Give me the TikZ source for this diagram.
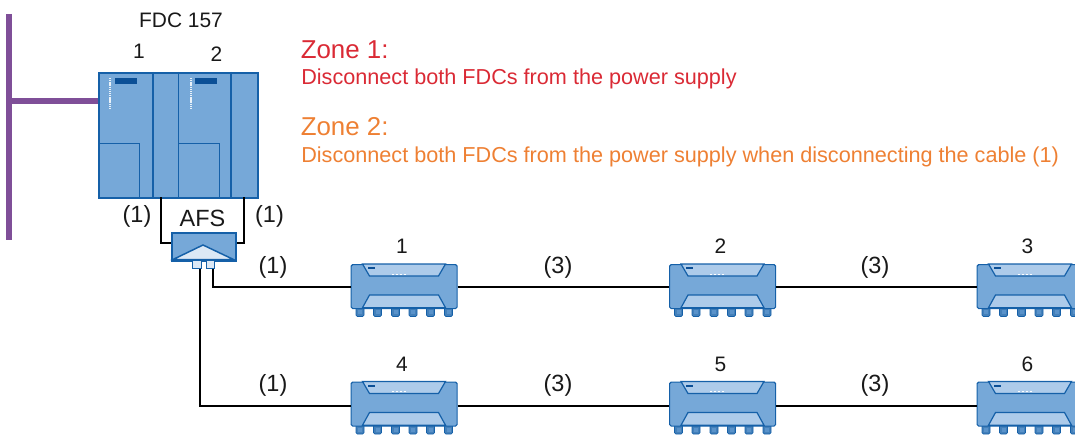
\documentclass[tikz,border=0pt]{standalone}
\usepackage{fontspec}
\setmainfont{Liberation Sans}
\definecolor{boxfill}{HTML}{76A8D8}
\definecolor{boxline}{HTML}{1560A8}
\definecolor{boxdark}{HTML}{0B4F96}
\definecolor{panel}{HTML}{ADCBEA}
\definecolor{tri}{HTML}{DCE8F5}
\definecolor{bus}{HTML}{7F4F98}
\definecolor{zoneone}{HTML}{DA2A35}
\definecolor{zonetwo}{HTML}{EE8033}
\def\px{0.75pt}
\tikzset{
  txt/.style={inner sep=0pt,font=\fontsize{15.7}{18}\selectfont,text=black!90},
  lab/.style={inner sep=0pt,font=\fontsize{17.6}{20}\selectfont,text=black!90},
  zonehead/.style={inner sep=0pt,anchor=base west,font=\fontsize{19.4}{22}\selectfont},
  zonetext/.style={inner sep=0pt,anchor=base west,font=\fontsize{16.23}{18}\selectfont},
  wire/.style={draw=black,line width=1.5pt},
  busline/.style={draw=bus,line width=4.2pt},
  unit/.style={draw=boxline,fill=boxfill,line width=1.6pt},
  thin unit/.style={draw=boxline,line width=1pt},
  port/.style={draw=boxline,fill=tri,line width=1.1pt,minimum width=8.5*\px,minimum height=8*\px,inner sep=0pt,anchor=north west},
  device/.style={draw=boxline,fill=boxfill,line width=0.9pt,rounded corners=1.2pt,
    minimum width=106*\px,minimum height=44*\px,inner sep=0pt,anchor=north west},
  devpanel/.style={draw=boxline,fill=panel,line width=0.9pt},
  gland/.style={fill=boxline!80!white,draw=boxline,line width=0.6pt,rounded corners=1pt},
}
\newcommand{\devicebody}[3]{%
  \begin{scope}[shift={(#2,#3)}]
    \foreach \g in {9.5,27,45,62.5,80,98}{
      \path[gland] (\g-4,43) rectangle (\g+4,52.5);
      \path[fill=boxfill!70!boxline] (\g-2,46) rectangle (\g+2,50);
    }
  \end{scope}
  \node[device] (#1) at (#2,#3) {};
  \begin{scope}[shift={(#2,#3)}]
    \path[devpanel] (12,0) -- (95,0) -- (88,12) -- (19,12) -- cycle;
    \path[devpanel] (19,31) -- (88,31) -- (95,43.7) -- (12,43.7) -- cycle;
    \fill[boxdark] (17,3) rectangle (24,5);
    \draw[white,line width=0.6pt,dash pattern=on 1.5pt off 1.5pt] (41,10) -- (55,10);
  \end{scope}
}
\begin{document}
\begin{tikzpicture}[x=\px,y=-\px]
\path[use as bounding box,clip] (0,0) rectangle (1075,435);

% bus
\coordinate (bustop) at (9,14);
\coordinate (busbot) at (9,240);
\coordinate (busjoin) at (9,101);
\draw[busline] (bustop) -- (busbot);

% FDC 157
\node[unit,minimum width=159*\px,minimum height=125*\px,inner sep=0pt,anchor=north west] (fdc) at (98,72) {};
\draw[busline] (busjoin) -- (fdc.west |- busjoin);
\draw[thin unit] (153,72) -- (153,197);
\draw[thin unit,line width=1.3pt] (178.5,72) -- (178.5,197);
\draw[thin unit] (231,72) -- (231,197);
\draw[thin unit,line width=0.7pt] (98,143) -- (139,143) -- (139,197);
\draw[thin unit,line width=0.7pt] (179,143) -- (219.5,143) -- (219.5,197);
\fill[boxdark] (115,78) rectangle (137,84);
\fill[boxdark] (195,78) rectangle (217,84);
\draw[white!85!boxfill,line width=1.5pt,dash pattern=on 1pt off 0.6pt] (110,78) -- (110,109);
\draw[white!85!boxfill,line width=1.5pt,dash pattern=on 1pt off 0.6pt] (191,78) -- (191,109);

\node[txt] (fdcname) at (181,20.5) {FDC 157};
\node[txt] (mod1) at (139,51.5) {1};
\node[txt] (mod2) at (216.5,54) {2};

% zones
\node[zonehead,text=zoneone] (z1h) at (300.5,59) {Zone 1:};
\node[zonetext,text=zoneone] (z1t) at (301,85) {Disconnect both FDCs from the power supply};
\node[zonehead,text=zonetwo] (z2h) at (300.5,136) {Zone 2:};
\node[zonetext,text=zonetwo] (z2t) at (301,162) {Disconnect both FDCs from the power supply when disconnecting the cable (1)};

% AFS
\coordinate (fdcl) at (161,197);
\coordinate (fdcr) at (244,197);
\node[unit,minimum width=64*\px,minimum height=28*\px,inner sep=0pt,anchor=north west] (afs) at (171,232) {};
\draw[wire] (fdcl) |- (afs.west |- 0,243);
\draw[wire] (fdcr) |- (afs.east |- 0,243);
\path[fill=tri,draw=boxline,line width=1.1pt] (173,259.5) -- (203,245) -- (233.5,259.5) -- cycle;
\node[port] (p1) at (192,260) {};
\node[port] (p2) at (205.5,260) {};
\node[lab] (afsname) at (202.5,218.5) {AFS};
\node[lab] (l1) at (137,216) {(1)};
\node[lab] (l2) at (269.5,216) {(1)};

% field devices
\devicebody{d1}{350.5}{264}
\devicebody{d2}{669}{264}
\devicebody{d3}{976.5}{264}
\devicebody{d4}{350.5}{381.5}
\devicebody{d5}{669}{381.5}
\devicebody{d6}{976.5}{381.5}

% connectors
\draw[wire] ([xshift=2pt]p2.south) |- (d1.west);
\draw[wire] (d1.east) -- (d2.west);
\draw[wire] (d2.east) -- (d3.west);
\draw[wire] ([xshift=2pt]p1.south) |- ([yshift=-1.7pt]d4.west);
\draw[wire] ([yshift=-1.7pt]d4.east) -- ([yshift=-1.7pt]d5.west);
\draw[wire] ([yshift=-1.7pt]d5.east) -- ([yshift=-1.7pt]d6.west);

% connector labels
\node[lab] (c1) at (273,267) {(1)};
\node[lab] (c2) at (558,267) {(3)};
\node[lab] (c3) at (875,267) {(3)};
\node[lab] (c4) at (273,385) {(1)};
\node[lab] (c5) at (558,385) {(3)};
\node[lab] (c6) at (875,385) {(3)};

% device numbers
\node[txt] (n1) at (402,246) {1};
\node[txt] (n2) at (720.5,246) {2};
\node[txt] (n3) at (1027.5,246) {3};
\node[txt] (n4) at (402,364) {4};
\node[txt] (n5) at (720.5,364) {5};
\node[txt] (n6) at (1027.5,364) {6};
\end{tikzpicture}
\end{document}
